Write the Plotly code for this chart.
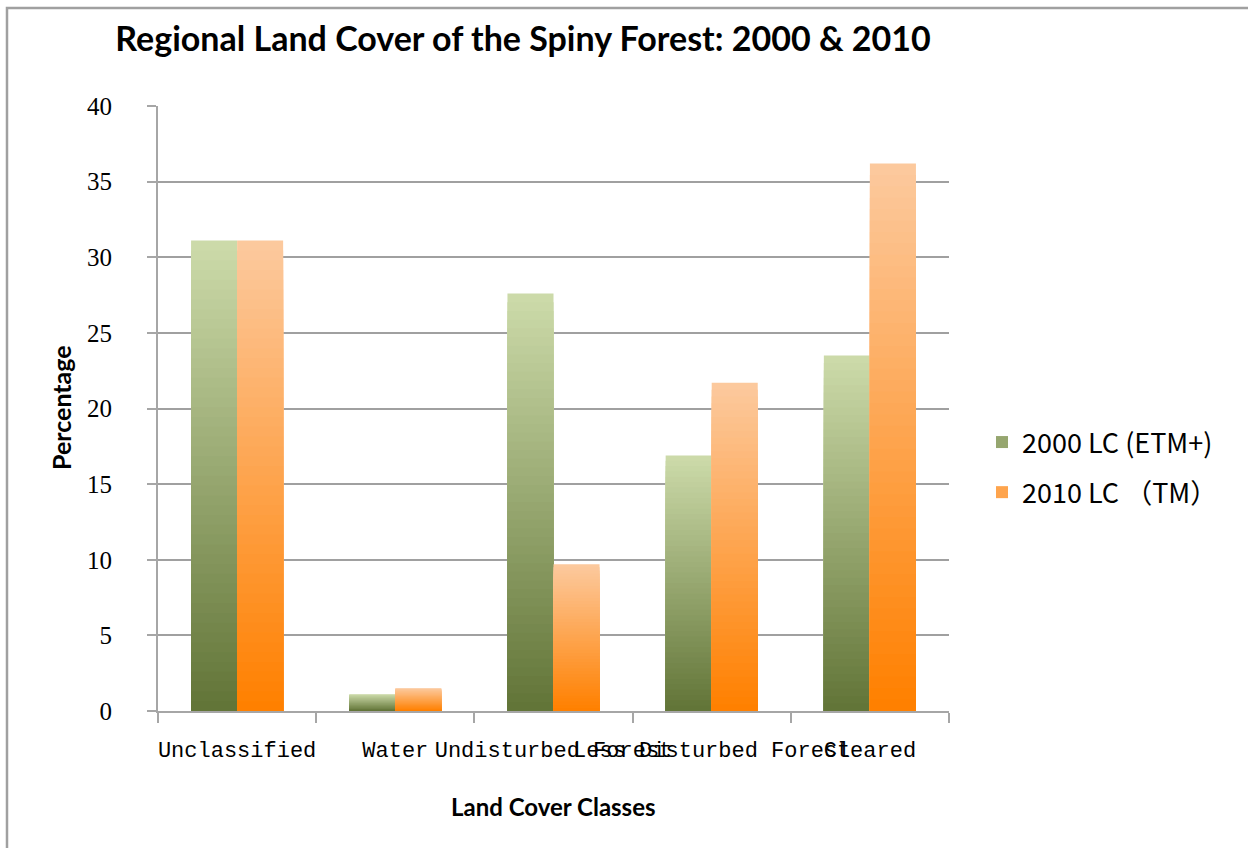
import plotly.graph_objects as go

# Land-cover share (%) per class for the two classification years
categories = ["Unclassified", "Water", "Undisturbed Forest", "Less Disturbed Forest", "Cleared"]
lc_2000 = [31.1, 1.1, 27.6, 16.9, 23.5]
lc_2010 = [31.1, 1.5, 9.7, 21.7, 36.2]
series_names = ["2000 LC (ETM+)", "2010 LC （TM）"]
y_ticks = [0, 5, 10, 15, 20, 25, 30, 35, 40]

# Gradient end colours per series: (top, bottom)
gradients = [((204, 218, 169), (98, 117, 56)), ((252, 201, 157), (255, 128, 0))]
STEPS = 48

W, H = 1248, 848
L, R, T, B = 158, 299, 106, 137
plot_w, plot_h = W - L - R, H - T - B


def mix(c1, c2, t):
    return "rgb(%d,%d,%d)" % tuple(round(a + (b - a) * t) for a, b in zip(c1, c2))


fig = go.Figure()
for s, (name, values) in enumerate(zip(series_names, [lc_2000, lc_2010])):
    top, bottom = gradients[s]
    # Layered bars: full-height light bar first, progressively shorter darker bars on top
    for j in range(STEPS):
        frac = (STEPS - j) / STEPS
        fig.add_trace(go.Bar(
            x=categories,
            y=[v * frac for v in values],
            name=name,
            offsetgroup=str(s),
            legendgroup=name,
            showlegend=(j == STEPS // 2),
            marker=dict(color=mix(top, bottom, j / (STEPS - 1)), line=dict(width=0)),
            hoverinfo="skip" if j else "y+name",
        ))

fig.update_layout(
    width=W, height=H,
    margin=dict(l=L, r=R, t=T, b=B),
    paper_bgcolor="white", plot_bgcolor="white",
    barmode="group", bargap=0.418, bargroupgap=0,
    showlegend=True,
    title=dict(
        text="<b>Regional Land Cover of the Spiny Forest: 2000 &amp; 2010</b>",
        font=dict(family="Lato", size=34, color="black"),
        x=523 / W, xanchor="center", y=1 - 39 / H, yanchor="middle",
    ),
    legend=dict(
        x=(982 - L) / plot_w, xanchor="left",
        y=(H - B - 418) / plot_h, yanchor="top",
        font=dict(family="Noto Sans CJK JP", size=27, color="black"),
        tracegroupgap=12, itemwidth=30, bgcolor="rgba(0,0,0,0)",
    ),
    font=dict(color="black"),
)

fig.update_xaxes(
    type="category",
    showline=True, linecolor="#A6A6A6", linewidth=2,
    ticks="outside", tickson="boundaries", ticklen=10, tickcolor="#A6A6A6", tickwidth=2,
    tickangle=0, ticklabelstandoff=18,
    tickfont=dict(family="Liberation Mono", size=22, color="black"),
    showgrid=False,
)
fig.update_yaxes(
    range=[0, 40], tickvals=y_ticks,
    showline=True, linecolor="#A6A6A6", linewidth=2,
    ticks="outside", ticklen=9, tickcolor="#A6A6A6", tickwidth=2,
    ticklabelstandoff=30,
    tickfont=dict(family="Liberation Serif", size=25, color="black"),
    showgrid=True, gridcolor="#A0A0A0", gridwidth=2,
    zeroline=False,
)

# Axis titles
fig.add_annotation(
    text="<b>Percentage</b>", textangle=-90,
    xref="paper", yref="paper",
    x=(61 - L) / plot_w, y=(H - B - 408) / plot_h,
    xanchor="center", yanchor="middle",
    showarrow=False, font=dict(family="Lato", size=25, color="black"),
)
fig.add_annotation(
    text="<b>Land Cover Classes</b>",
    xref="paper", yref="paper",
    x=(553 - L) / plot_w, y=(H - B - 806) / plot_h,
    xanchor="center", yanchor="middle",
    showarrow=False, font=dict(family="Lato", size=24, color="black"),
)

# Chart frame along the top and left edges
fx = (7 - L) / plot_w
fy = (H - B - 8) / plot_h
fig.add_shape(
    type="path", xref="paper", yref="paper",
    path="M %f %f L %f %f L %f %f" % (fx, -0.5, fx, fy, 1.6, fy),
    line=dict(color="#A0A0A0", width=2.5),
)

fig.write_html("out.html")
